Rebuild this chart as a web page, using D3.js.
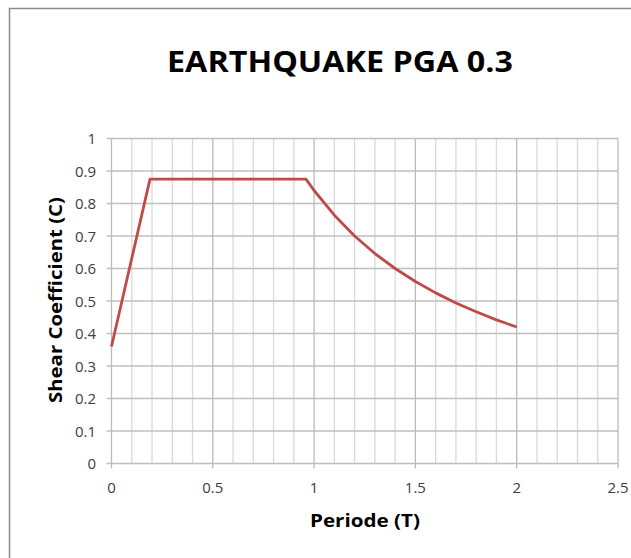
<!DOCTYPE html>
<html><head><meta charset="utf-8">
<script src="https://cdn.jsdelivr.net/npm/d3@7"></script>
<style>body{margin:0;background:#fff;}svg{display:block;}</style>
</head><body>
<svg id="c" width="631" height="558"></svg>
<script>
const title = "EARTHQUAKE PGA 0.3";
const xLabel = "Periode (T)";
const yLabel = "Shear Coefficient (C)";
const periods = [0, 0.19, 0.96, 1.0, 1.1, 1.2, 1.3, 1.4, 1.5, 1.6, 1.7, 1.8, 1.9, 2.0];
const coeffs  = [0.36, 0.875, 0.875, 0.84, 0.764, 0.70, 0.646, 0.60, 0.56, 0.525, 0.494, 0.467, 0.442, 0.42];
const xTicks = [0, 0.5, 1, 1.5, 2, 2.5];
const yTicks = [0, 0.1, 0.2, 0.3, 0.4, 0.5, 0.6, 0.7, 0.8, 0.9, 1];
const xMinor = d3.range(0, 26).map(i => i / 10);

const svg = d3.select("#c");
const font = "'Open Sans', 'DejaVu Sans', sans-serif";

// outer frame
svg.append("path").attr("d", "M9.5,558 V8.5 H631").attr("fill", "none")
  .attr("stroke", "#8a8a8a").attr("stroke-width", 1.5);

const x = d3.scaleLinear().domain([0, 2.5]).range([111.5, 618]);
const y = d3.scaleLinear().domain([0, 1]).range([463.5, 138.5]);

const g = svg.append("g");
// minor vertical grid
g.selectAll(".vmin").data(xMinor.filter(v => Math.round(v * 10) % 5 !== 0)).join("line")
  .attr("x1", d => x(d)).attr("x2", d => x(d)).attr("y1", y(0)).attr("y2", y(1))
  .attr("stroke", "#d9d9d9").attr("stroke-width", 1.3);
// horizontal grid
g.selectAll(".h").data(yTicks).join("line")
  .attr("x1", x(0) - 5).attr("x2", x(2.5)).attr("y1", d => y(d)).attr("y2", d => y(d))
  .attr("stroke", "#bfbfbf").attr("stroke-width", 1.3);
// major vertical grid
g.selectAll(".vmaj").data(xTicks).join("line")
  .attr("x1", d => x(d)).attr("x2", d => x(d)).attr("y1", y(0) + 5).attr("y2", y(1))
  .attr("stroke", "#bababa").attr("stroke-width", 1.3);

// tick labels
g.selectAll(".xt").data(xTicks).join("text")
  .attr("x", d => x(d)).attr("y", 493).attr("text-anchor", "middle")
  .attr("font-family", font).attr("font-size", 15).attr("fill", "#404040")
  .text(d => d3.format("")(d));
g.selectAll(".yt").data(yTicks).join("text")
  .attr("x", 96).attr("y", d => y(d) + 5.5).attr("text-anchor", "end")
  .attr("font-family", font).attr("font-size", 15).attr("fill", "#404040")
  .text(d => d3.format("")(d));

// line
const line = d3.line().x((d, i) => x(periods[i])).y(d => y(d));
g.append("path").datum(coeffs).attr("d", line).attr("fill", "none")
  .attr("stroke", "#be4b48").attr("stroke-width", 2.8).attr("stroke-linejoin", "round");

// titles
svg.append("text").attr("x", 340).attr("y", 72).attr("text-anchor", "middle")
  .attr("font-family", font).attr("font-weight", "bold").attr("font-size", 28)
  .attr("textLength", 346).attr("lengthAdjust", "spacingAndGlyphs")
  .attr("fill", "#000").text(title);
svg.append("text").attr("x", 365).attr("y", 527).attr("text-anchor", "middle")
  .attr("font-family", font).attr("font-weight", "bold").attr("font-size", 17)
  .attr("textLength", 110).attr("lengthAdjust", "spacingAndGlyphs")
  .attr("fill", "#000").text(xLabel);
svg.append("text").attr("transform", "translate(62,300) rotate(-90)").attr("text-anchor", "middle")
  .attr("font-family", font).attr("font-weight", "bold").attr("font-size", 17)
  .attr("textLength", 206).attr("lengthAdjust", "spacingAndGlyphs")
  .attr("fill", "#000").text(yLabel);
</script>
</body></html>
